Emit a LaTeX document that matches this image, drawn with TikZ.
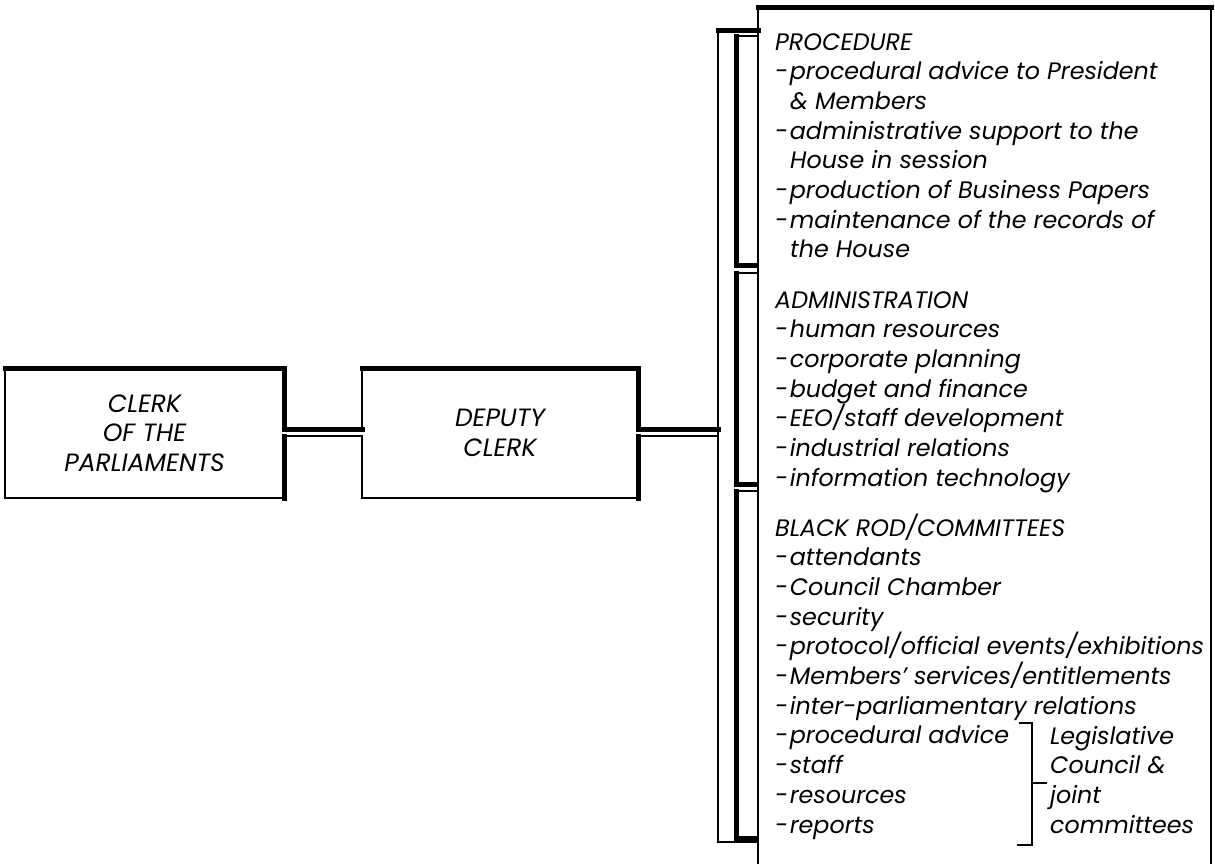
\documentclass[tikz,border=0pt]{standalone}
\usepackage{fontspec}
\setmainfont{Poppins}
\newcommand{\dsh}{-\kern1.5pt}
\begin{document}
\begin{tikzpicture}[x=1pt,y=-1pt,
  thickln/.style={line width=5pt,line cap=rect,line join=miter},
  thinln/.style={line width=1.4pt,line cap=rect},
  midln/.style={line width=2.2pt,line cap=rect},
  txt/.style={anchor=base west,inner sep=0pt,font=\fontsize{23.8}{29.7}\selectfont\itshape},
  boxtxt/.style={align=center,inner sep=0pt,font=\fontsize{25}{29.5}\selectfont\itshape}]
\useasboundingbox[fill=white] (0,0) rectangle (1215,863);
% boxes (nodes for names)
\node[boxtxt] (clerk) at (144.5,433) {CLERK\\OF THE\\PARLIAMENTS};
\node[boxtxt] (deputy) at (500,433) {DEPUTY\\CLERK};
% clerk box outline
\draw[thinln] (5,368) -- (5,498) -- (284,498);
\draw[thickln] (5,368) -- (284,368) -- (284,429) -- (362,429);
\draw[thickln] (284,436) -- (284,498);
\draw[thinln] (284,436) -- (362,436);
% deputy box outline
\draw[thinln] (362,368) -- (362,429);
\draw[thinln] (362,436) -- (362,498) -- (638,498);
\draw[thickln] (362,368) -- (638,368) -- (638,429) -- (718,429);
\draw[thickln] (638,436) -- (638,498);
\draw[thinln] (638,436) -- (718,436);
% outer bracket
\draw[thinln] (718,30) -- (718,842) -- (758,842);
\draw[thickln] (718,30) -- (758,30);
% inner section bars
\draw[thinln] (736,36) -- (758,36);
\draw[thickln] (736,36) -- (736,265) -- (756,265);
\draw[thinln] (736,273) -- (758,273);
\draw[thickln] (736,273) -- (736,484) -- (756,484);
\draw[thinln] (736,491) -- (758,491);
\draw[thickln] (736,491) -- (736,838) -- (756,838);
% panel
\draw[thickln] (758,7) -- (1211,7);
\draw[thinln] (758,7) -- (758,870);
\draw[midln] (1211,7) -- (1211,870);
% texts: procedure
\foreach \i/\xx/\t in {0/775/{PROCEDURE},
  1/775/{\dsh procedural advice to President},
  2/790/{\& Members},
  3/775/{\dsh administrative support to the},
  4/790/{House in session},
  5/775/{\dsh production of Business Papers},
  6/775/{\dsh maintenance of the records of},
  7/790/{the House}}
  \node[txt] (p\i) at (\xx,{50+\i*29.7}) {\t};
% administration
\foreach \i/\t in {0/{ADMINISTRATION},
  1/{\dsh human resources},
  2/{\dsh corporate planning},
  3/{\dsh budget and finance},
  4/{\dsh EEO/staff development},
  5/{\dsh industrial relations},
  6/{\dsh information technology}}
  \node[txt] (a\i) at (775,{308+\i*29.7}) {\t};
% black rod
\foreach \i/\t in {0/{BLACK ROD/COMMITTEES},
  1/{\dsh attendants},
  2/{\dsh Council Chamber},
  3/{\dsh security},
  4/{\dsh protocol/official events/exhibitions},
  5/{\dsh Members’ services/entitlements},
  6/{\dsh inter-parliamentary relations},
  7/{\dsh procedural advice},
  8/{\dsh staff},
  9/{\dsh resources},
  10/{\dsh reports}}
  \node[txt] (b\i) at (775,{536+\i*29.7}) {\t};
% legislative council
\foreach \i/\t in {0/{Legislative},1/{Council \&},2/{joint},3/{committees}}
  \node[txt] (l\i) at (1050,{744+\i*29.7}) {\t};
% small bracket
\draw[midln] (1020,723) -- (1032,723) -- (1032,845) -- (1018,845);
\draw[midln] (1032,783) -- (1046,783);
\end{tikzpicture}
\end{document}
